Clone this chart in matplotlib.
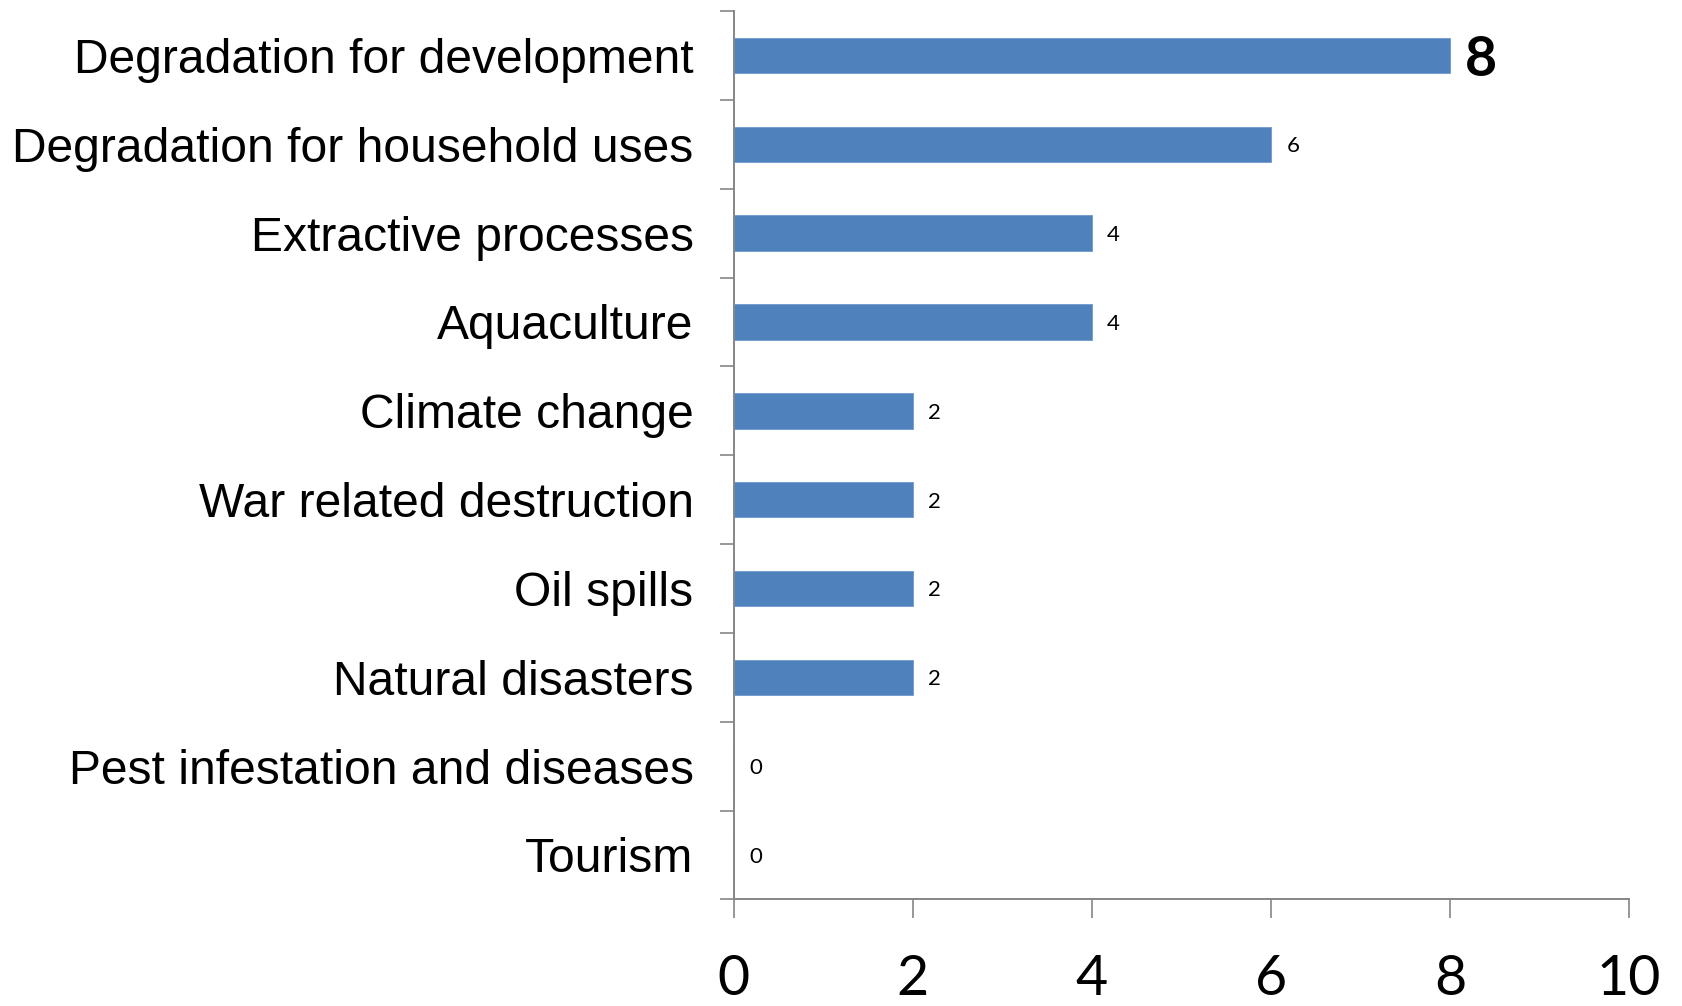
import numpy as np
import matplotlib.pyplot as plt

# threat categories, listed top to bottom
threats = [
    "Degradation for development",
    "Degradation for household uses",
    "Extractive processes",
    "Aquaculture",
    "Climate change",
    "War related destruction",
    "Oil spills",
    "Natural disasters",
    "Pest infestation and diseases",
    "Tourism",
]
counts = [8, 6, 4, 4, 2, 2, 2, 2, 0, 0]
xticks = [0, 2, 4, 6, 8, 10]

bar_color = "#4F81BD"
axis_color = "#868686"

fig = plt.figure(figsize=(16.83, 10.06), dpi=100, facecolor="w")
ax = fig.add_axes([0.436, 0.106, 0.532, 0.883])

ypos = np.arange(len(threats))
bars = ax.barh(ypos, counts, height=0.4, color=bar_color, edgecolor="#6F98CC", linewidth=0.6)

ax.set_xlim(0, 10)
ax.set_ylim(len(threats) - 0.5, -0.5)

# category labels on major ticks, separators on minor ticks
ax.set_yticks(ypos)
ax.set_yticklabels(threats, fontfamily="Liberation Sans", fontsize=34.6)
ax.set_yticks(np.arange(len(threats) + 1) - 0.5, minor=True)
ax.tick_params(axis="y", which="major", length=0, pad=29)
ax.tick_params(axis="y", which="minor", length=10, width=1.2, color=axis_color, direction="out")

ax.set_xticks(xticks)
ax.set_xticklabels([str(v) for v in xticks], fontfamily="Lato", fontsize=40)
ax.tick_params(axis="x", length=14, width=1.2, color=axis_color, direction="out", pad=25)

for side in ["top", "right"]:
    ax.spines[side].set_visible(False)
for side in ["left", "bottom"]:
    ax.spines[side].set_color(axis_color)
    ax.spines[side].set_linewidth(1.4)

# value labels at bar ends, the largest one emphasised
labels = ax.bar_label(bars, labels=[str(c) for c in counts], padding=11,
                      fontfamily="Lato", fontsize=16)
for t in labels:
    t.set_verticalalignment("center_baseline")
labels[0].set_fontsize(40)
labels[0].set_fontweight("bold")

plt.savefig("out.png", dpi=100, facecolor="w")
